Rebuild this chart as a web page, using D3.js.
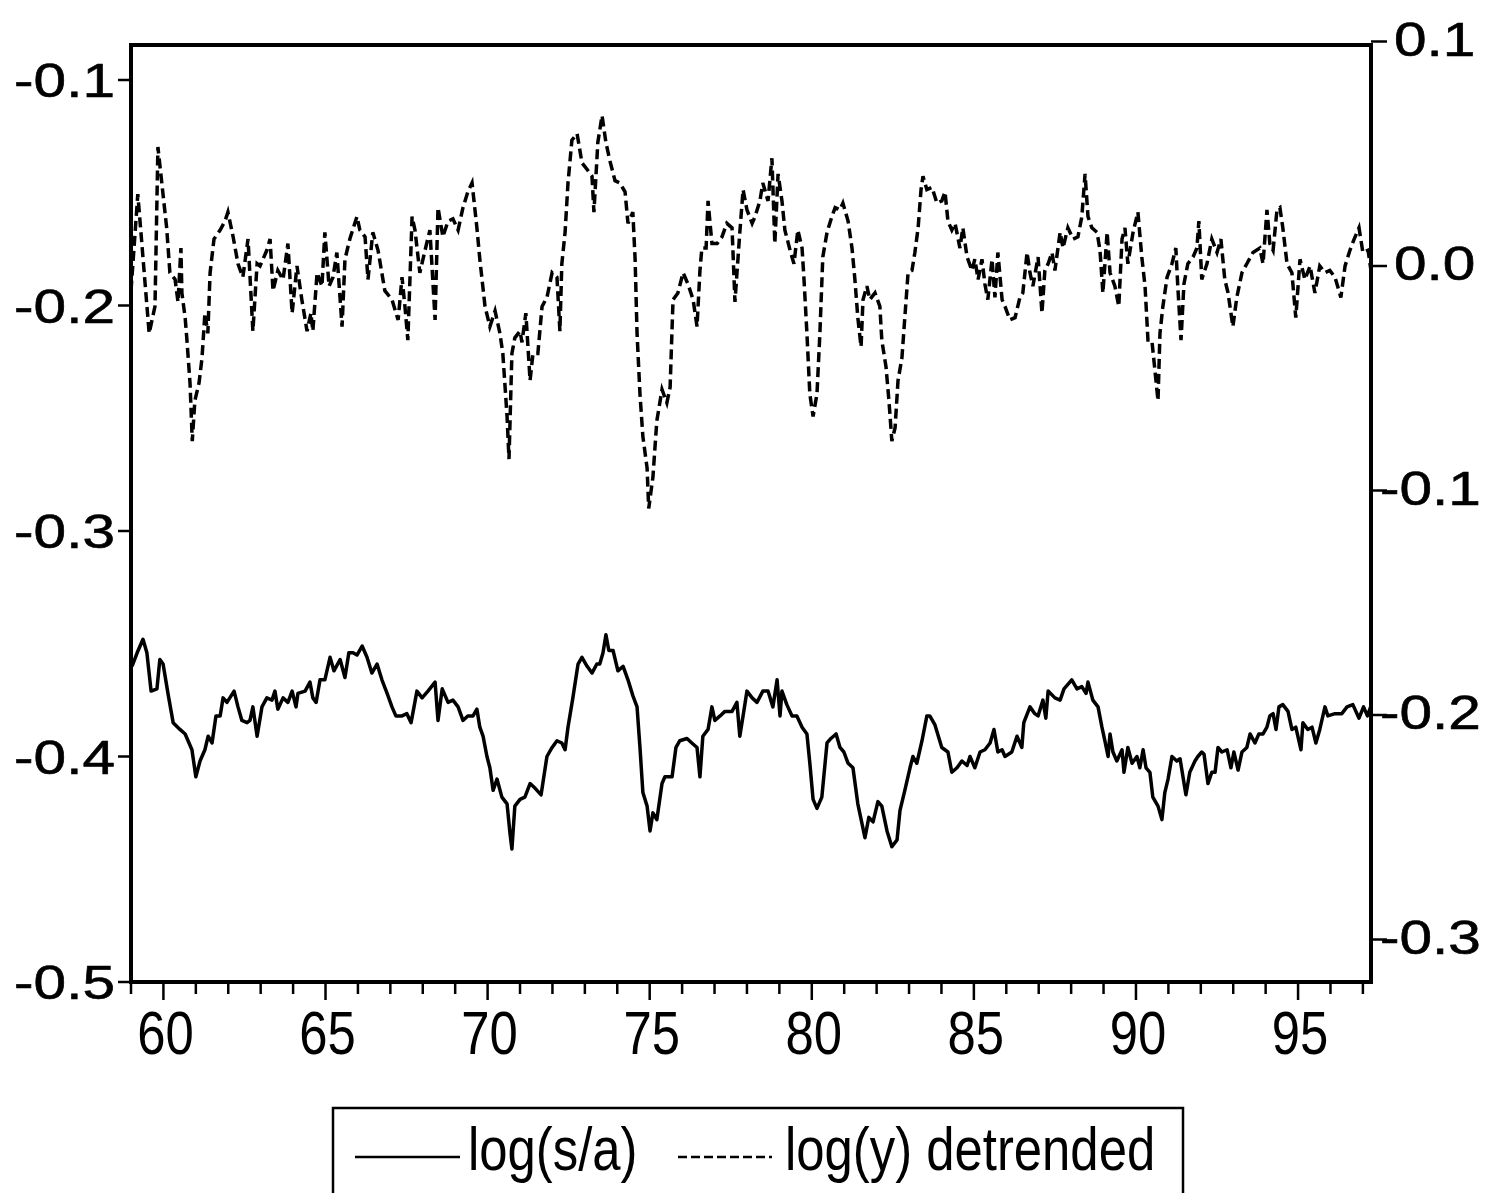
<!DOCTYPE html>
<html>
<head>
<meta charset="utf-8">
<script src="https://cdn.jsdelivr.net/npm/d3@7"></script>
<style>
  html, body { margin: 0; padding: 0; background: #fff; }
  svg { display: block; }
  text { font-family: "Liberation Sans", Arial, Helvetica, sans-serif; fill: #000; }
</style>
</head>
<body>
<svg id="chart" width="1500" height="1193"></svg>
<script>
// log(s/a), left axis: [year, value]
const logSA = [
  [59.03,-0.360],[59.19,-0.354],[59.37,-0.348],[59.49,-0.354],[59.62,-0.371],[59.80,-0.370],[59.89,-0.357],[59.99,-0.359],
  [60.14,-0.372],[60.30,-0.385],[60.51,-0.388],[60.67,-0.390],[60.88,-0.397],[61.00,-0.409],[61.13,-0.402],[61.28,-0.397],
  [61.38,-0.391],[61.50,-0.394],[61.62,-0.382],[61.75,-0.382],[61.84,-0.374],[61.96,-0.376],[62.18,-0.371],[62.30,-0.378],
  [62.42,-0.384],[62.58,-0.385],[62.67,-0.384],[62.76,-0.378],[62.89,-0.391],[63.04,-0.378],[63.19,-0.374],[63.35,-0.375],
  [63.44,-0.371],[63.53,-0.379],[63.69,-0.374],[63.84,-0.376],[63.97,-0.371],[64.09,-0.378],[64.15,-0.372],[64.37,-0.371],
  [64.52,-0.367],[64.61,-0.374],[64.71,-0.376],[64.83,-0.366],[64.98,-0.366],[65.14,-0.356],[65.26,-0.362],[65.45,-0.357],
  [65.60,-0.365],[65.72,-0.354],[65.85,-0.354],[65.97,-0.355],[66.13,-0.351],[66.28,-0.356],[66.43,-0.363],[66.59,-0.359],
  [66.74,-0.366],[66.90,-0.372],[67.05,-0.378],[67.17,-0.382],[67.36,-0.382],[67.51,-0.381],[67.64,-0.385],[67.82,-0.371],
  [67.98,-0.374],[68.16,-0.371],[68.38,-0.367],[68.47,-0.384],[68.60,-0.370],[68.78,-0.376],[68.93,-0.375],[69.09,-0.378],
  [69.24,-0.384],[69.39,-0.382],[69.55,-0.382],[69.67,-0.379],[69.76,-0.387],[69.86,-0.391],[69.98,-0.400],[70.07,-0.405],
  [70.17,-0.415],[70.29,-0.410],[70.44,-0.418],[70.60,-0.421],[70.69,-0.434],[70.75,-0.441],[70.84,-0.422],[71.00,-0.419],
  [71.15,-0.418],[71.31,-0.412],[71.46,-0.414],[71.65,-0.417],[71.83,-0.400],[71.99,-0.396],[72.14,-0.393],[72.29,-0.394],
  [72.39,-0.397],[72.48,-0.387],[72.63,-0.374],[72.79,-0.359],[72.91,-0.356],[73.07,-0.360],[73.22,-0.363],[73.37,-0.359],
  [73.46,-0.359],[73.56,-0.354],[73.65,-0.346],[73.74,-0.353],[73.87,-0.353],[74.02,-0.362],[74.18,-0.360],[74.33,-0.366],
  [74.48,-0.373],[74.61,-0.378],[74.70,-0.396],[74.79,-0.416],[74.92,-0.422],[75.01,-0.433],[75.10,-0.425],[75.22,-0.428],
  [75.38,-0.412],[75.47,-0.409],[75.69,-0.409],[75.81,-0.396],[75.93,-0.393],[76.15,-0.392],[76.30,-0.394],[76.46,-0.396],
  [76.55,-0.409],[76.64,-0.391],[76.80,-0.388],[76.92,-0.378],[77.01,-0.384],[77.17,-0.382],[77.32,-0.380],[77.54,-0.380],
  [77.69,-0.376],[77.78,-0.391],[77.88,-0.382],[78.00,-0.371],[78.16,-0.374],[78.31,-0.376],[78.49,-0.371],[78.65,-0.371],
  [78.80,-0.378],[78.93,-0.366],[79.02,-0.382],[79.08,-0.371],[79.23,-0.377],[79.39,-0.382],[79.54,-0.382],[79.70,-0.387],
  [79.85,-0.390],[79.94,-0.403],[80.04,-0.419],[80.16,-0.423],[80.31,-0.418],[80.47,-0.394],[80.59,-0.392],[80.75,-0.390],
  [80.87,-0.396],[80.99,-0.398],[81.12,-0.403],[81.27,-0.405],[81.42,-0.421],[81.64,-0.436],[81.76,-0.427],[81.89,-0.429],
  [82.04,-0.420],[82.16,-0.422],[82.32,-0.433],[82.47,-0.440],[82.63,-0.437],[82.72,-0.424],[82.87,-0.415],[83.03,-0.405],
  [83.12,-0.400],[83.24,-0.403],[83.40,-0.393],[83.55,-0.382],[83.64,-0.382],[83.80,-0.386],[84.01,-0.396],[84.20,-0.398],
  [84.32,-0.407],[84.48,-0.405],[84.63,-0.402],[84.79,-0.404],[84.88,-0.400],[85.03,-0.405],[85.19,-0.398],[85.34,-0.397],
  [85.50,-0.394],[85.62,-0.388],[85.74,-0.398],[85.87,-0.397],[85.96,-0.400],[86.17,-0.398],[86.33,-0.391],[86.48,-0.396],
  [86.54,-0.385],[86.73,-0.378],[86.88,-0.381],[86.98,-0.382],[87.13,-0.375],[87.22,-0.383],[87.29,-0.371],[87.50,-0.374],
  [87.66,-0.375],[87.78,-0.370],[88.02,-0.366],[88.18,-0.370],[88.33,-0.369],[88.46,-0.372],[88.52,-0.367],[88.67,-0.375],
  [88.83,-0.378],[88.95,-0.387],[89.04,-0.393],[89.14,-0.400],[89.20,-0.390],[89.29,-0.398],[89.41,-0.402],[89.57,-0.397],
  [89.63,-0.407],[89.75,-0.396],[89.88,-0.403],[90.03,-0.400],[90.12,-0.405],[90.22,-0.397],[90.31,-0.405],[90.43,-0.407],
  [90.52,-0.418],[90.68,-0.422],[90.80,-0.428],[90.89,-0.416],[90.99,-0.410],[91.11,-0.400],[91.26,-0.402],[91.36,-0.401],
  [91.54,-0.417],[91.66,-0.407],[91.82,-0.402],[91.91,-0.400],[92.03,-0.398],[92.10,-0.399],[92.22,-0.412],[92.34,-0.407],
  [92.44,-0.407],[92.53,-0.396],[92.65,-0.398],[92.81,-0.397],[92.93,-0.405],[93.02,-0.398],[93.15,-0.406],[93.27,-0.398],
  [93.42,-0.396],[93.52,-0.390],[93.67,-0.394],[93.79,-0.390],[93.92,-0.390],[94.04,-0.387],[94.13,-0.382],[94.23,-0.381],
  [94.32,-0.388],[94.41,-0.378],[94.53,-0.377],[94.69,-0.380],[94.81,-0.388],[94.93,-0.387],[95.09,-0.397],[95.15,-0.385],
  [95.30,-0.388],[95.43,-0.387],[95.55,-0.394],[95.67,-0.388],[95.83,-0.378],[95.92,-0.382],[96.14,-0.381],[96.35,-0.381],
  [96.51,-0.378],[96.69,-0.377],[96.88,-0.383],[97.02,-0.378],[97.14,-0.382],[97.24,-0.378]
];

// log(y) detrended, right axis: [year, value]
const logYDetrended = [
  [59.00,-0.011],[59.21,0.032],[59.56,-0.030],[59.74,-0.018],[59.83,0.053],[59.95,0.037],[60.10,0.017],[60.20,-0.003],
  [60.36,-0.006],[60.45,-0.016],[60.54,0.008],[60.57,-0.012],[60.67,-0.023],[60.72,-0.032],[60.82,-0.052],[60.89,-0.078],
  [60.97,-0.060],[61.10,-0.052],[61.19,-0.041],[61.28,-0.021],[61.37,-0.030],[61.44,-0.003],[61.56,0.012],[61.75,0.016],
  [61.90,0.020],[61.99,0.024],[62.15,0.013],[62.30,0.001],[62.45,-0.005],[62.61,0.012],[62.76,-0.029],[62.89,0.001],
  [62.98,0.000],[63.19,0.007],[63.29,0.012],[63.38,-0.011],[63.53,-0.002],[63.69,-0.006],[63.84,0.010],[63.97,-0.021],
  [64.12,0.000],[64.27,-0.015],[64.43,-0.029],[64.55,-0.021],[64.61,-0.029],[64.74,-0.003],[64.89,-0.009],[64.98,0.015],
  [65.11,-0.009],[65.23,-0.005],[65.35,0.006],[65.51,-0.027],[65.60,0.003],[65.75,0.012],[65.97,0.022],[66.06,0.016],
  [66.22,0.013],[66.31,-0.006],[66.46,0.015],[66.62,0.007],[66.83,-0.011],[67.05,-0.015],[67.24,-0.024],[67.36,-0.005],
  [67.45,-0.018],[67.54,-0.033],[67.67,0.022],[67.76,0.016],[67.91,-0.003],[68.07,0.007],[68.22,0.016],[68.38,-0.024],
  [68.47,0.026],[68.62,0.013],[68.78,0.020],[68.93,0.021],[69.09,0.016],[69.24,0.026],[69.39,0.033],[69.52,0.037],
  [69.67,0.017],[69.76,0.003],[69.92,-0.018],[70.07,-0.027],[70.23,-0.020],[70.38,-0.030],[70.47,-0.039],[70.60,-0.067],
  [70.66,-0.086],[70.75,-0.039],[70.84,-0.032],[71.00,-0.029],[71.06,-0.034],[71.18,-0.021],[71.31,-0.051],[71.40,-0.039],
  [71.55,-0.039],[71.68,-0.018],[71.83,-0.014],[71.99,-0.003],[72.14,-0.005],[72.23,-0.029],[72.29,0.001],[72.39,0.015],
  [72.48,0.037],[72.60,0.056],[72.76,0.059],[72.91,0.046],[73.07,0.043],[73.22,0.040],[73.28,0.024],[73.40,0.055],
  [73.53,0.067],[73.65,0.055],[73.77,0.047],[73.93,0.038],[74.08,0.037],[74.24,0.033],[74.33,0.019],[74.48,0.024],
  [74.55,0.003],[74.61,-0.030],[74.70,-0.057],[74.79,-0.076],[74.92,-0.090],[74.97,-0.108],[75.10,-0.094],[75.22,-0.069],
  [75.38,-0.055],[75.53,-0.061],[75.63,-0.054],[75.72,-0.015],[75.87,-0.012],[76.03,-0.003],[76.18,-0.008],[76.34,-0.015],
  [76.46,-0.027],[76.55,-0.002],[76.61,0.008],[76.74,0.008],[76.80,0.029],[76.92,0.010],[77.08,0.010],[77.23,0.013],
  [77.38,0.019],[77.54,0.017],[77.63,-0.016],[77.78,0.015],[77.88,0.034],[78.00,0.025],[78.16,0.019],[78.25,0.022],
  [78.40,0.029],[78.49,0.037],[78.65,0.029],[78.77,0.048],[78.86,0.010],[78.96,0.041],[79.08,0.029],[79.17,0.016],
  [79.33,0.007],[79.45,0.001],[79.57,0.016],[79.70,0.008],[79.76,-0.006],[79.85,-0.030],[79.94,-0.057],[80.04,-0.067],
  [80.16,-0.057],[80.25,-0.030],[80.34,0.004],[80.47,0.015],[80.62,0.022],[80.72,0.026],[80.87,0.025],[80.96,0.028],
  [81.12,0.020],[81.24,0.008],[81.33,-0.006],[81.42,-0.023],[81.52,-0.036],[81.58,-0.015],[81.70,-0.009],[81.79,-0.015],
  [81.95,-0.012],[82.10,-0.018],[82.16,-0.033],[82.29,-0.045],[82.38,-0.060],[82.47,-0.078],[82.57,-0.072],[82.66,-0.051],
  [82.78,-0.041],[82.87,-0.023],[82.97,-0.003],[83.09,-0.002],[83.18,0.006],[83.28,0.017],[83.37,0.034],[83.43,0.040],
  [83.55,0.034],[83.71,0.035],[83.86,0.028],[84.01,0.029],[84.11,0.033],[84.20,0.020],[84.32,0.016],[84.42,0.019],
  [84.57,0.008],[84.66,0.017],[84.79,0.004],[84.94,-0.002],[85.03,0.003],[85.13,-0.006],[85.25,0.003],[85.34,-0.008],
  [85.43,-0.015],[85.56,0.003],[85.65,-0.014],[85.74,0.006],[85.87,-0.015],[85.96,-0.018],[86.11,-0.024],[86.27,-0.023],
  [86.42,-0.014],[86.51,-0.012],[86.64,0.006],[86.73,-0.003],[86.82,-0.009],[86.98,0.004],[87.10,-0.021],[87.19,-0.002],
  [87.29,0.001],[87.41,0.006],[87.50,-0.002],[87.66,0.015],[87.75,0.008],[87.90,0.017],[88.06,0.012],[88.21,0.013],
  [88.33,0.022],[88.43,0.041],[88.52,0.022],[88.64,0.017],[88.80,0.015],[88.89,0.007],[88.98,-0.012],[89.11,0.015],
  [89.20,-0.003],[89.35,-0.009],[89.47,-0.018],[89.57,0.012],[89.66,0.017],[89.75,0.001],[89.91,0.015],[90.06,0.024],
  [90.18,0.004],[90.28,-0.009],[90.37,-0.033],[90.49,-0.033],[90.68,-0.060],[90.74,-0.030],[90.83,-0.018],[90.96,-0.005],
  [91.11,0.001],[91.23,0.008],[91.29,-0.009],[91.39,-0.033],[91.48,-0.008],[91.60,0.001],[91.76,0.004],[91.88,0.008],
  [91.94,0.020],[92.03,-0.006],[92.19,0.001],[92.34,0.012],[92.50,0.006],[92.62,0.012],[92.74,-0.006],[92.84,-0.012],
  [92.99,-0.027],[93.11,-0.014],[93.27,-0.003],[93.42,0.001],[93.61,0.006],[93.82,0.008],[93.92,0.001],[94.04,0.025],
  [94.13,0.010],[94.23,0.007],[94.35,0.025],[94.44,0.026],[94.53,0.017],[94.66,0.001],[94.81,-0.003],[94.93,-0.023],
  [95.06,0.003],[95.21,-0.006],[95.37,0.000],[95.52,-0.012],[95.67,0.000],[95.83,-0.003],[95.98,-0.002],[96.14,-0.005],
  [96.32,-0.014],[96.45,0.000],[96.60,0.007],[96.73,0.012],[96.88,0.017],[97.00,0.006],[97.16,0.007],[97.25,-0.002]
];

const leftTicks = [-0.5, -0.4, -0.3, -0.2, -0.1];
const rightTicks = [-0.3, -0.2, -0.1, 0.0, 0.1];
const yearTicks = d3.range(59, 98);
const yearLabels = [60, 65, 70, 75, 80, 85, 90, 95];
const legendLabels = ['log(s/a)', 'log(y) detrended'];

const frame = { left: 131, right: 1371, top: 45, bottom: 982 };

const svg = d3.select('#chart');

// Scales
const x = d3.scaleLinear().domain([59, 97.25]).range([frame.left, frame.right]);
const yLeft = d3.scaleLinear().domain([-0.5, -0.08448]).range([frame.bottom, frame.top]);
const yRight = d3.scaleLinear().domain([-0.31893, 0.09844]).range([frame.bottom, frame.top]);

// Series
const lineLeft = d3.line().x(d => x(d[0])).y(d => yLeft(d[1]));
const lineRight = d3.line().x(d => x(d[0])).y(d => yRight(d[1]));

svg.append('path')
  .datum(logYDetrended)
  .attr('d', lineRight)
  .attr('fill', 'none')
  .attr('stroke', '#000')
  .attr('stroke-width', 3.5)
  .attr('stroke-dasharray', '10,5');

svg.append('path')
  .datum(logSA)
  .attr('d', lineLeft)
  .attr('fill', 'none')
  .attr('stroke', '#000')
  .attr('stroke-width', 3.5)
  .attr('stroke-linejoin', 'round');

// Frame
svg.append('rect')
  .attr('x', frame.left)
  .attr('y', frame.top)
  .attr('width', frame.right - frame.left)
  .attr('height', frame.bottom - frame.top)
  .attr('fill', 'none')
  .attr('stroke', '#000')
  .attr('stroke-width', 4);

// Left axis
const gLeft = svg.append('g');
gLeft.selectAll('line').data(leftTicks).join('line')
  .attr('x1', frame.left - 13).attr('x2', frame.left)
  .attr('y1', d => yLeft(d)).attr('y2', d => yLeft(d))
  .attr('stroke', '#000').attr('stroke-width', 2.5);
gLeft.selectAll('text').data(leftTicks).join('text')
  .attr('transform', d => `translate(${frame.left - 16},${yLeft(d)}) scale(1.22,1)`)
  .attr('text-anchor', 'end')
  .attr('dy', '0.36em')
  .attr('font-size', 48)
  .attr('stroke', '#000').attr('stroke-width', 0.6)
  .text(d => d.toFixed(1));

// Right axis
const gRight = svg.append('g');
gRight.selectAll('line').data(rightTicks).join('line')
  .attr('x1', frame.right).attr('x2', frame.right + 16)
  .attr('y1', d => yRight(d)).attr('y2', d => yRight(d))
  .attr('stroke', '#000').attr('stroke-width', 2.5);
gRight.selectAll('text').data(rightTicks).join('text')
  .attr('transform', d => `translate(${d < 0 ? frame.right + 9 : frame.right + 23},${yRight(d) - 3}) scale(1.22,1)`)
  .attr('text-anchor', 'start')
  .attr('dy', '0.36em')
  .attr('font-size', 48)
  .attr('stroke', '#000').attr('stroke-width', 0.6)
  .text(d => d.toFixed(1));

// Bottom axis
const gBottom = svg.append('g');
gBottom.selectAll('line').data(yearTicks).join('line')
  .attr('x1', d => x(d)).attr('x2', d => x(d))
  .attr('y1', frame.bottom)
  .attr('y2', d => frame.bottom + (d % 5 === 0 ? 18 : 12))
  .attr('stroke', '#000').attr('stroke-width', 2.5);
gBottom.selectAll('text').data(yearLabels).join('text')
  .attr('transform', d => `translate(${x(d) + 2},${frame.bottom + 72}) scale(0.82,1)`)
  .attr('text-anchor', 'middle')
  .attr('font-size', 62)
  .text(d => d);

// Legend
const legend = svg.append('g');
legend.append('rect')
  .attr('x', 333).attr('y', 1108)
  .attr('width', 850).attr('height', 110)
  .attr('fill', 'none').attr('stroke', '#000').attr('stroke-width', 2.5);
legend.append('line')
  .attr('x1', 355).attr('x2', 460).attr('y1', 1157).attr('y2', 1157)
  .attr('stroke', '#000').attr('stroke-width', 2.5);
legend.append('line')
  .attr('x1', 678).attr('x2', 772).attr('y1', 1157).attr('y2', 1157)
  .attr('stroke', '#000').attr('stroke-width', 2.5)
  .attr('stroke-dasharray', '9,4');
legend.selectAll('text').data(legendLabels).join('text')
  .attr('transform', (d, i) => `translate(${i === 0 ? 468 : 785},1170) scale(0.82,1)`)
  .attr('font-size', 62)
  .text(d => d);
</script>
</body>
</html>
